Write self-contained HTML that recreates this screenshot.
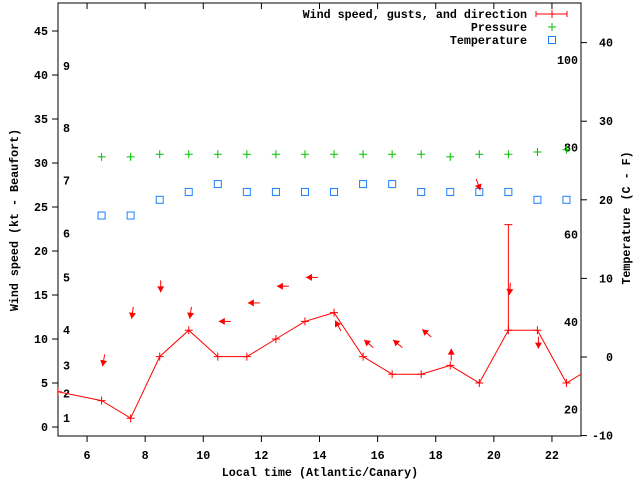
<!DOCTYPE html>
<html><head><meta charset="utf-8"><style>
html,body{margin:0;padding:0;background:#fff}
svg{display:block}
text{font-family:"Liberation Mono",monospace;font-size:11.7px;font-weight:bold;fill:#000}
</style></head><body>
<svg id="chart" width="640" height="480" viewBox="0 0 640 480"></svg>
<script>
const hours=[5,6.5,7.5,8.5,9.5,10.5,11.5,12.5,13.5,14.5,15.5,16.5,17.5,18.5,19.5,20.5,21.5,22.5,23.5];
const windSpeed=[4,3,1,8,11,8,8,10,12,13,8,6,6,7,5,11,11,5,7];
const gustHour=[20.5];
const gustValue=[23];
const gustBase=[11];
const pointHours=[6.5,7.5,8.5,9.5,10.5,11.5,12.5,13.5,14.5,15.5,16.5,17.5,18.5,19.5,20.5,21.5,22.5];
const pressure=[30.7,30.7,31,31,31,31,31,31,31,31,31,31,30.7,31,31,31.25,31.5];
const temperature=[18,18,20,21,22,21,21,21,21,22,22,21,21,21,21,20,20];
const arrowLevel=[6.9,12.3,15.3,12.3,12,14.1,16,17,12.1,9.9,9.9,11.1,8.9,26.9,15,8.9];
const arrowDir=[10,8,0,8,90,90,90,90,150,130,130,130,180,340,5,0];
const xTicks=[6,8,10,12,14,16,18,20,22];
const yTicks=[0,5,10,15,20,25,30,35,40,45];
const tTicks=[-10,0,10,20,30,40];
const beaufortLabels=["1","2","3","4","5","6","7","8","9"];
const beaufortY=[1,3.8,7,11,17,22,28,34,41];
const fLabels=[20,40,60,80,100];

const L=58,R=581,T=3,B=436;
const X=h=>L+(h-5)*(R-L)/18;
const Y=v=>427-v*8.8;
const TY=c=>357-c*7.86;
const svg=document.getElementById('chart');
const NS='http://www.w3.org/2000/svg';
function mk(tag,attrs,parent){const e=document.createElementNS(NS,tag);for(const k in attrs)e.setAttribute(k,attrs[k]);(parent||svg).appendChild(e);return e;}

const defs=mk('defs',{});
const cp=mk('clipPath',{id:'clip'},defs);
mk('rect',{x:L,y:T,width:R-L,height:B-T},cp);

// frame
const frame=mk('rect',{x:L,y:T,width:R-L,height:B-T,fill:'none',stroke:'#000','stroke-width':1});



xTicks.forEach(h=>{
  const x=X(h);
  const t=mk('line',{x1:x,y1:B,x2:x,y2:B+6,stroke:'#000'});
  
  
  mk('line',{x1:x,y1:T,x2:x,y2:T+6,stroke:'#000'});
  const l=mk('text',{x:x,y:B+23,'text-anchor':'middle'});l.textContent=h;
  
  
});
yTicks.forEach(v=>{
  const y=Y(v);
  const t=mk('line',{x1:L-6,y1:y,x2:L,y2:y,stroke:'#000'});
  
  
  const l=mk('text',{x:L-10,y:y+4,'text-anchor':'end'});l.textContent=v;
  
  
});
tTicks.forEach(c=>{
  const y=TY(c);
  const t=mk('line',{x1:R,y1:y,x2:R+6,y2:y,stroke:'#000'});
  
  
  const l=mk('text',{x:R+32,y:y+4,'text-anchor':'end'});l.textContent=c;
  
  
});
beaufortLabels.forEach((s,i)=>{
  const l=mk('text',{x:63,y:Y(beaufortY[i])+4});l.textContent=s;
  
  
});
fLabels.forEach(f=>{
  const c=(f-32)*5/9;
  const l=mk('text',{x:578,y:TY(c)+4,'text-anchor':'end'});l.textContent=f;
  
  
});

const g=mk('g',{'clip-path':'url(#clip)'});
// wind line
const pts=hours.map((h,i)=>X(h)+','+Y(windSpeed[i])).join(' ');
const line=mk('polyline',{points:pts,fill:'none',stroke:'#f00','stroke-width':1},g);


hours.forEach((h,i)=>{
  const x=X(h),y=Y(windSpeed[i]);
  const p=mk('path',{d:`M${x-4},${y}H${x+4}M${x},${y-4}V${y+4}`,stroke:'#f00'},g);
  
  
});
gustHour.forEach((h,i)=>{
  const x=X(h),y1=Y(gustBase[i]),y2=Y(gustValue[i]);
  const p=mk('path',{d:`M${x},${y1}V${y2}M${x-4},${y2}H${x+4}`,stroke:'#f00'},g);
  
  
});
// pressure
pointHours.forEach((h,i)=>{
  const x=X(h),y=Y(pressure[i]);
  const p=mk('path',{d:`M${x-4},${y}H${x+4}M${x},${y-4}V${y+4}`,stroke:'#00c000'},g);
  
  
});
// temperature
pointHours.forEach((h,i)=>{
  const x=X(h),y=TY(temperature[i]);
  const r=mk('rect',{x:x-3.5,y:y-3.5,width:7,height:7,fill:'none',stroke:'#1a80ff','stroke-width':1},g);
  
  
});
// arrows
pointHours.slice(0,arrowLevel.length).forEach((h,i)=>{
  const hx=X(h)+1,hy=Y(arrowLevel[i]);
  const a=(arrowDir[i]+180)*Math.PI/180; // direction wind blows to
  const dx=Math.sin(a),dy=-Math.cos(a);
  const tx=hx-dx*12,ty=hy-dy*12;
  const px=-dy,py=dx;
  const bx=hx-dx*6,by=hy-dy*6;
  const grp=mk('g',{},g);
  
  
  mk('line',{x1:tx,y1:ty,x2:hx,y2:hy,stroke:'#f00'},grp);
  mk('polygon',{points:`${hx},${hy} ${bx+px*3.5},${by+py*3.5} ${bx-px*3.5},${by-py*3.5}`,fill:'#f00'},grp);
});

// legend
const legend=[["Wind speed, gusts, and direction",14],["Pressure",27],["Temperature",40]];
legend.forEach(([s,y],i)=>{
  const t=mk('text',{x:527,y:y+4,'text-anchor':'end'});t.textContent=s;
  
  
});
mk('path',{d:'M536,14H567M536,11V17M567,11V17M552,10V18',stroke:'#f00'});
mk('path',{d:'M548,27H556M552,23V31',stroke:'#00c000'});
mk('rect',{x:548.5,y:36.5,width:7,height:7,fill:'none',stroke:'#1a80ff'});

// axis titles
const xt=mk('text',{x:320,y:476,'text-anchor':'middle'});xt.textContent='Local time (Atlantic/Canary)';


const yt=mk('text',{x:0,y:0,'text-anchor':'middle',transform:'translate(18,220) rotate(-90)'});yt.textContent='Wind speed (kt - Beaufort)';


const y2=mk('text',{x:0,y:0,'text-anchor':'middle',transform:'translate(630,218) rotate(-90)'});y2.textContent='Temperature (C - F)';


</script>
</body></html>
